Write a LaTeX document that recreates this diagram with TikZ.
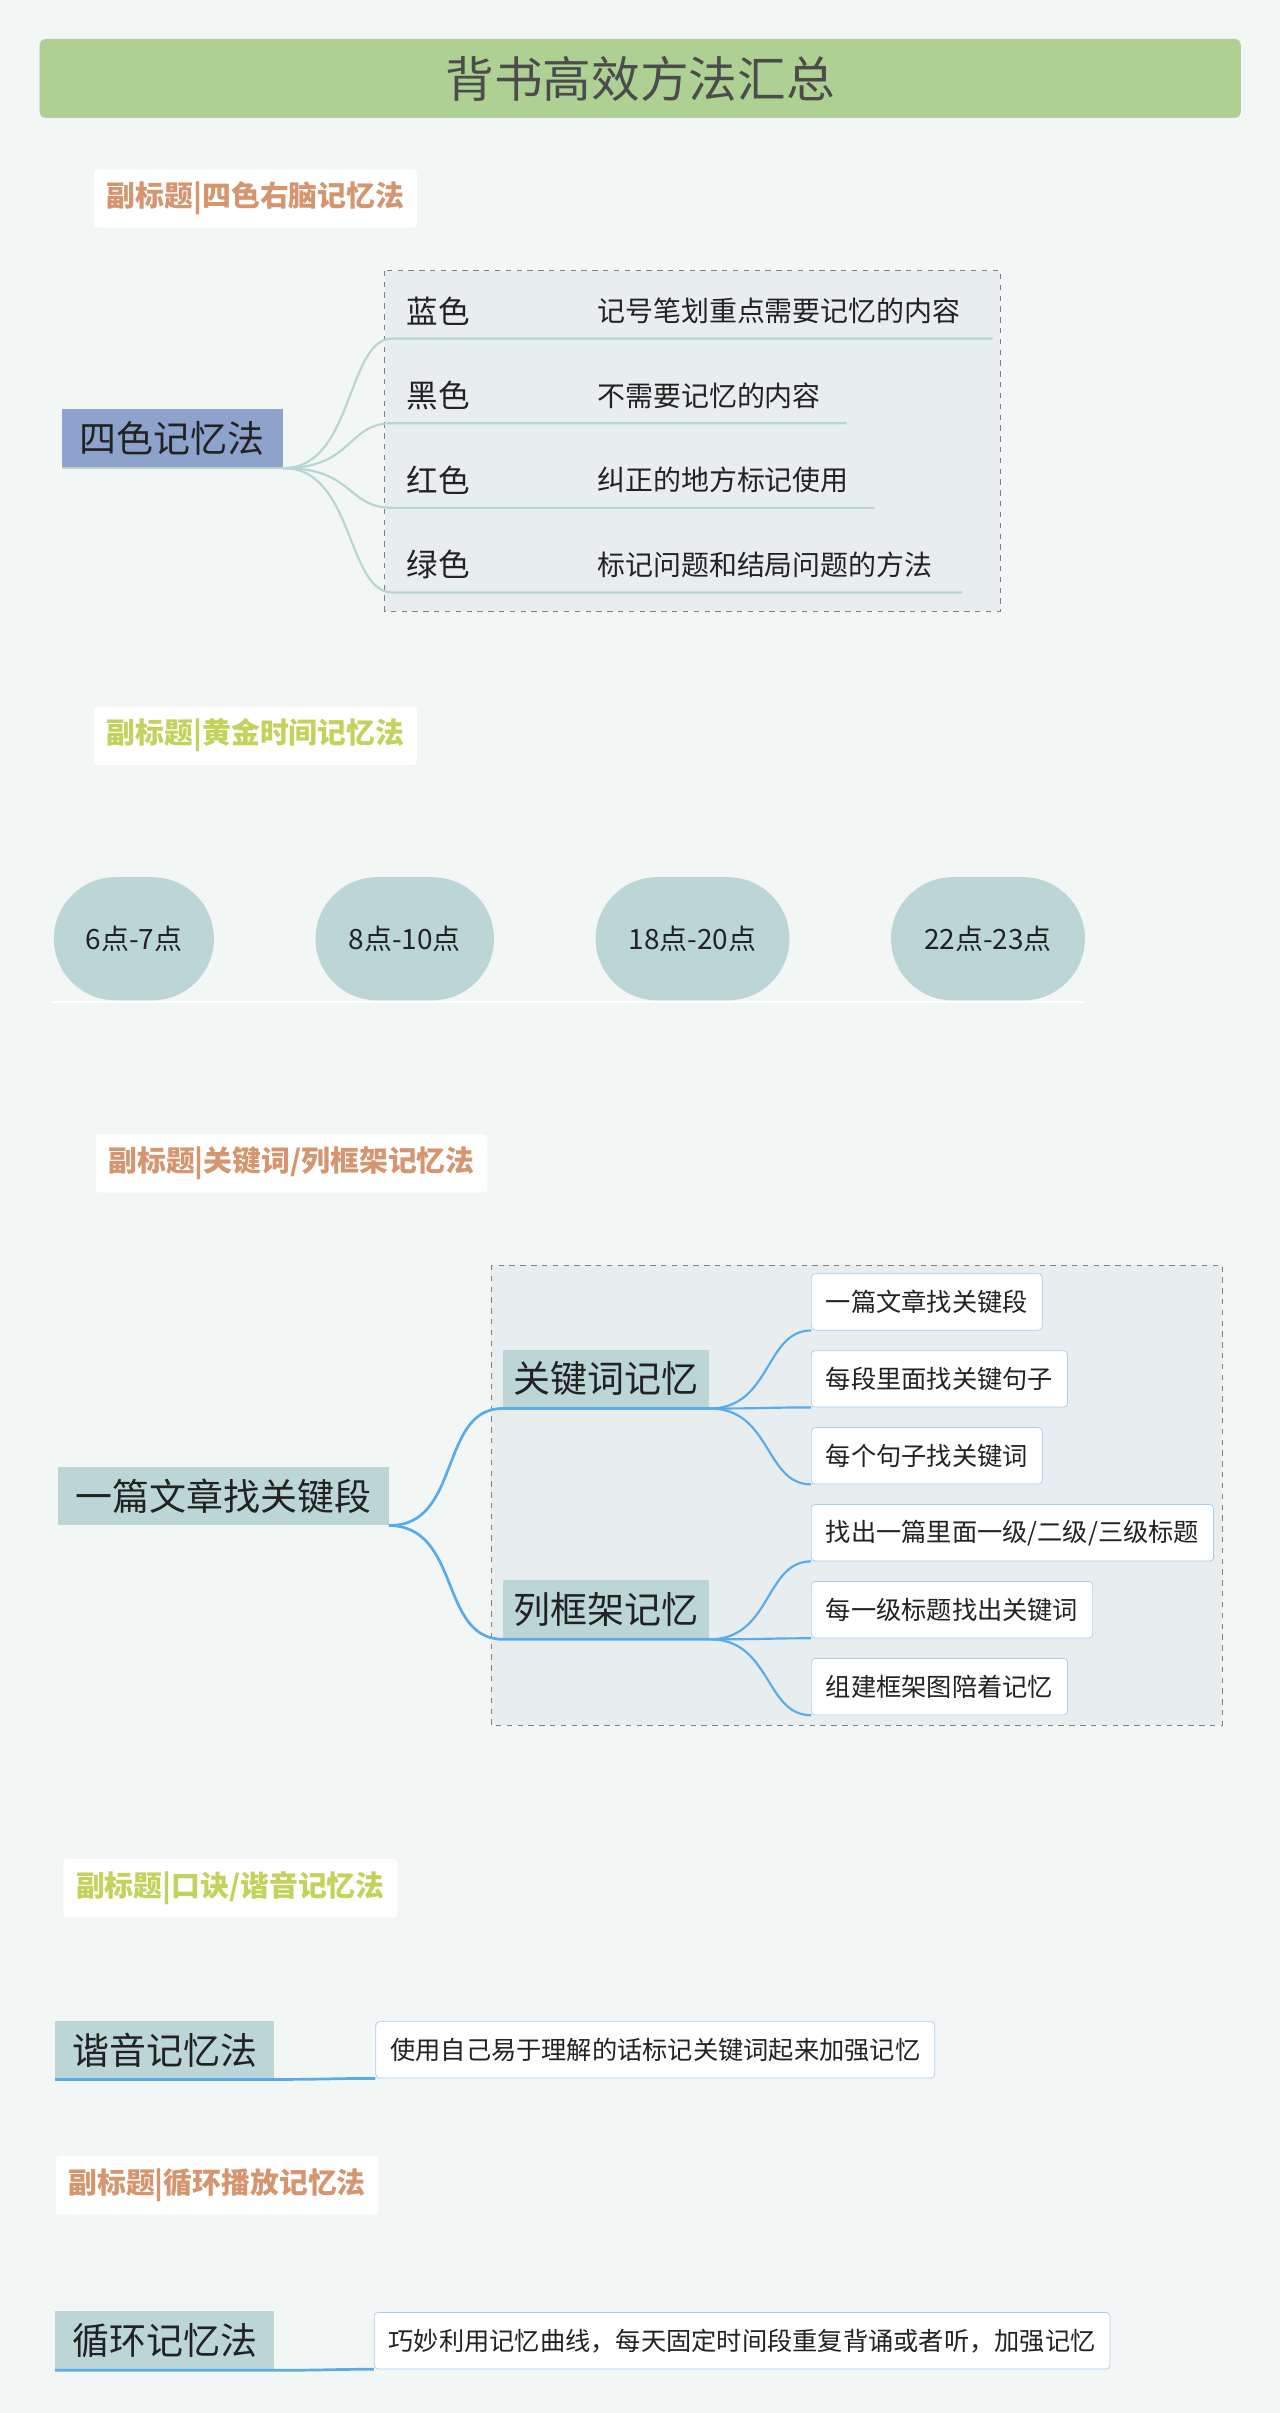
\documentclass[tikz,border=0pt]{standalone}
\usepackage{fontspec}
\setmainfont{Noto Sans CJK SC}
\usetikzlibrary{positioning}
\definecolor{bgc}{HTML}{F2F7F6}
\definecolor{titlec}{HTML}{AED193}
\definecolor{orangec}{HTML}{D4956F}
\definecolor{limec}{HTML}{C2D25A}
\definecolor{tealc}{HTML}{BCD6D7}
\definecolor{purplec}{HTML}{8DA3CC}
\definecolor{boxc}{HTML}{E8EDEF}
\definecolor{greyline}{HTML}{B9D5D2}
\definecolor{bluec}{HTML}{5AACE8}
\definecolor{leafc}{HTML}{A8CCF0}
\definecolor{textc}{HTML}{222222}
\tikzset{
  subtitle/.style={fill=white,rounded corners=2pt,anchor=west,inner sep=7pt,font=\fontsize{16}{18}\selectfont\bfseries},
  rootbox/.style={fill=tealc,minimum height=1.14cm,font=\fontsize{20.5}{22}\selectfont,text=textc},
  pill/.style={fill=tealc,rounded corners=1.2cm,minimum height=2.4cm,font=\fontsize{15.5}{17}\selectfont,text=textc},
  leaf/.style={draw=leafc,fill=white,rounded corners=2pt,anchor=west,minimum height=1.1cm,inner xsep=8pt,font=\fontsize{14}{16}\selectfont,text=textc},
  colorkey/.style={anchor=west,font=\fontsize{17.5}{19}\selectfont,text=textc},
  desc/.style={anchor=west,font=\fontsize{15.5}{17}\selectfont,text=textc},
  gline/.style={greyline,line width=1.2pt},
  bline/.style={bluec,line width=1.5pt}
}
\begin{document}
\begin{tikzpicture}[x=0.03cm,y=-0.03cm]
  \fill[bgc] (0,0) rectangle (832,1568);
  \useasboundingbox (0,0) rectangle (832,1568);

  % title
  \node[draw=titlec!80!black!60,fill=titlec,rounded corners=3pt,minimum width=23.4cm,minimum height=1.53cm,
        font=\fontsize{27}{29}\selectfont,text=black!70] (title) at (416,51) {背书高效方法汇总};

  % section 1
  \node[subtitle,text=orangec] (sub1) at (61,129) {副标题|四色右脑记忆法};
  \draw[dashed,gray,fill=boxc] (250,176) rectangle (650,397);
  \node[fill=purplec,minimum width=4.32cm,minimum height=1.14cm,font=\fontsize{20.5}{22}\selectfont,text=textc] (four) at (112,285) {四色记忆法};
  \draw[gline] (40,304) -- (184,304);
  \node[colorkey] (blue) at (260,202) {蓝色};
  \node[colorkey] (black) at (260,257) {黑色};
  \node[colorkey] (red) at (260,312) {红色};
  \node[colorkey] (green) at (260,367) {绿色};
  \node[desc] (dblue) at (384,202) {记号笔划重点需要记忆的内容};
  \node[desc] (dblack) at (384,257) {不需要记忆的内容};
  \node[desc] (dred) at (384,312) {纠正的地方标记使用};
  \node[desc] (dgreen) at (384,367) {标记问题和结局问题的方法};
  \draw[gline] (four.south east) .. controls (230,304) and (225,220) .. (255,220) -- (645,220);
  \draw[gline] (four.south east) .. controls (230,304) and (225,275) .. (255,275) -- (550,275);
  \draw[gline] (four.south east) .. controls (230,304) and (225,330) .. (255,330) -- (568,330);
  \draw[gline] (four.south east) .. controls (230,304) and (225,385) .. (255,385) -- (625,385);

  % section 2
  \node[subtitle,text=limec] (sub2) at (61,478) {副标题|黄金时间记忆法};
  \draw[white,line width=1pt] (33,651) -- (705,651);
  \node[pill,minimum width=3.12cm] (p1) at (87,610) {6点-7点};
  \node[pill,minimum width=3.48cm] (p2) at (263,610) {8点-10点};
  \node[pill,minimum width=3.78cm] (p3) at (450,610) {18点-20点};
  \node[pill,minimum width=3.78cm] (p4) at (642,610) {22点-23点};

  % section 3
  \node[subtitle,text=orangec] (sub3) at (62,756) {副标题|关键词/列框架记忆法};
  \draw[dashed,gray,fill=boxc] (319,822) rectangle (794,1121);
  \node[rootbox,minimum width=6.45cm] (article) at (145,972) {一篇文章找关键段};
  \node[rootbox,minimum width=4.02cm] (kw) at (394,896) {关键词记忆};
  \node[rootbox,minimum width=4.02cm] (frame) at (394,1046) {列框架记忆};
  \draw[bline] (article.south east) .. controls (300,992) and (285,915) .. (kw.south west) -- (kw.south east);
  \draw[bline] (article.south east) .. controls (300,992) and (285,1065) .. (frame.south west) -- (frame.south east);
  \node[leaf] (l1) at (527,846) {一篇文章找关键段};
  \node[leaf] (l2) at (527,896) {每段里面找关键句子};
  \node[leaf] (l3) at (527,946) {每个句子找关键词};
  \node[leaf] (l4) at (527,996) {找出一篇里面一级/二级/三级标题};
  \node[leaf] (l5) at (527,1046) {每一级标题找出关键词};
  \node[leaf] (l6) at (527,1096) {组建框架图陪着记忆};
  \foreach \l in {l1,l2,l3}
    \draw[bline,line width=1.2pt] (kw.south east) .. controls +(40,0) and +(-30,0) .. (\l.south west);
  \foreach \l in {l4,l5,l6}
    \draw[bline,line width=1.2pt] (frame.south east) .. controls +(40,0) and +(-30,0) .. (\l.south west);

  % section 4
  \node[subtitle,text=limec] (sub4) at (41,1227) {副标题|口诀/谐音记忆法};
  \node[rootbox,minimum width=4.26cm] (homo) at (107,1332) {谐音记忆法};
  \node[leaf] (hleaf) at (244,1332) {使用自己易于理解的话标记关键词起来加强记忆};
  \draw[bline] (homo.south west) -- (homo.south east) .. controls +(35,0) and +(-30,0) .. (hleaf.south west);

  % section 5
  \node[subtitle,text=orangec] (sub5) at (36,1420) {副标题|循环播放记忆法};
  \node[rootbox,minimum width=4.26cm] (loop) at (107,1521) {循环记忆法};
  \node[leaf] (lleaf) at (243,1521) {巧妙利用记忆曲线，每天固定时间段重复背诵或者听，加强记忆};
  \draw[bline] (loop.south west) -- (loop.south east) .. controls +(35,0) and +(-30,0) .. (lleaf.south west);
\end{tikzpicture}
\end{document}
